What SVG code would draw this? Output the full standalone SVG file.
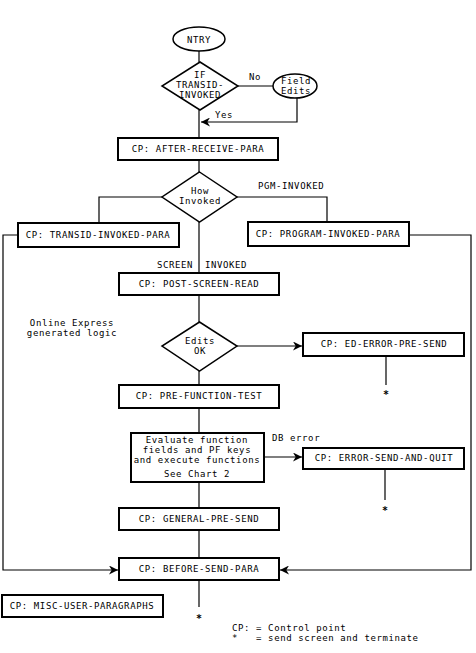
<svg xmlns="http://www.w3.org/2000/svg" width="476" height="653" viewBox="0 0 476 653">
<defs>
<style>
text{font-family:"DejaVu Sans Mono","Liberation Mono",monospace;font-size:9px;letter-spacing:0.6px;fill:#000}
.c{text-anchor:middle}
.star{font-size:10px;font-weight:bold;letter-spacing:0}
.box{fill:#fff;stroke:#000;stroke-width:2}
.shape{fill:#fff;stroke:#000;stroke-width:1.5}
.ln{fill:none;stroke:#000;stroke-width:1.2}
</style>
<marker id="ah" viewBox="0 0 10 10" refX="10" refY="5" markerWidth="9" markerHeight="9" markerUnits="userSpaceOnUse" orient="auto">
<path d="M0,0 L10,5 L0,10 L3,5 z" fill="#000"/>
</marker>
</defs>
<rect width="476" height="653" fill="#fff"/>
<g id="connectors">
<path class="ln" d="M199,51 V62"/>
<path class="ln" d="M199,110 V138"/>
<path class="ln" d="M238,86 H273"/>
<path class="ln" d="M297,98 V122 H201" marker-end="url(#ah)"/>
<path class="ln" d="M199,160 V172"/>
<path class="ln" d="M162,197 H99 V223"/>
<path class="ln" d="M237,197 H327 V222"/>
<path class="ln" d="M199,222 V273"/>
<path class="ln" d="M18,235 H3 V570 H118" marker-end="url(#ah)"/>
<path class="ln" d="M409,235 H471 V570 H280" marker-end="url(#ah)"/>
<path class="ln" d="M199,295 V322"/>
<path class="ln" d="M237,346 H302" marker-end="url(#ah)"/>
<path class="ln" d="M386,356 V385"/>
<path class="ln" d="M199,371 V385"/>
<path class="ln" d="M199,408 V433"/>
<path class="ln" d="M264,457 H302" marker-end="url(#ah)"/>
<path class="ln" d="M385,469 V500"/>
<path class="ln" d="M199,482 V508"/>
<path class="ln" d="M199,530 V558"/>
<path class="ln" d="M199,580 V607"/>
<text x="249" y="80">No</text>
<text x="215" y="118">Yes</text>
<text x="258" y="189">PGM-INVOKED</text>
<text x="193" y="268" text-anchor="end">SCREEN</text>
<text x="205" y="268">INVOKED</text>
<text x="272" y="441">DB error</text>
<text class="c star" x="386" y="398">*</text>
<text class="c star" x="385" y="514">*</text>
<text class="c star" x="199" y="622">*</text>
</g>
<g id="ntry">
<ellipse class="shape" cx="199" cy="39" rx="26" ry="12"/>
<text class="c" x="199" y="43">NTRY</text>
</g>
<g id="if-transid">
<polygon class="shape" points="200,62 238,86 200,110 162,86"/>
<text class="c" x="200" y="78">IF</text>
<text class="c" x="200" y="88">TRANSID-</text>
<text class="c" x="200" y="98">INVOKED</text>
</g>
<g id="field-edits">
<ellipse class="shape" cx="295" cy="86" rx="22" ry="12"/>
<text class="c" x="296" y="84">Field</text>
<text class="c" x="296" y="94">Edits</text>
</g>
<g id="after-receive">
<rect class="box" x="118" y="138" width="160" height="22"/>
<text class="c" x="198" y="152">CP: AFTER-RECEIVE-PARA</text>
</g>
<g id="how-invoked">
<polygon class="shape" points="199.5,172 237,197 199.5,222 162,197"/>
<text class="c" x="200" y="194">How</text>
<text class="c" x="200" y="204">Invoked</text>
</g>
<g id="transid-invoked">
<rect class="box" x="18" y="223" width="161" height="24"/>
<text class="c" x="98" y="238">CP: TRANSID-INVOKED-PARA</text>
</g>
<g id="program-invoked">
<rect class="box" x="248" y="222" width="161" height="24"/>
<text class="c" x="328" y="237">CP: PROGRAM-INVOKED-PARA</text>
</g>
<g id="post-screen-read">
<rect class="box" x="119" y="273" width="160" height="22"/>
<text class="c" x="199" y="287">CP: POST-SCREEN-READ</text>
</g>
<g id="note">
<text class="c" x="72" y="326">Online Express</text>
<text class="c" x="72" y="336">generated logic</text>
</g>
<g id="edits-ok">
<polygon class="shape" points="199.5,322 237,346 199.5,371 162,346"/>
<text class="c" x="200" y="344">Edits</text>
<text class="c" x="200" y="354">OK</text>
</g>
<g id="ed-error">
<rect class="box" x="303" y="333" width="161" height="23"/>
<text class="c" x="384" y="347">CP: ED-ERROR-PRE-SEND</text>
</g>
<g id="pre-function-test">
<rect class="box" x="119" y="385" width="160" height="23"/>
<text class="c" x="199" y="399">CP: PRE-FUNCTION-TEST</text>
</g>
<g id="evaluate">
<rect class="box" x="131" y="433" width="133" height="49"/>
<text class="c" x="197" y="443">Evaluate function</text>
<text class="c" x="197" y="453">fields and PF keys</text>
<text class="c" x="197" y="463">and execute functions</text>
<text class="c" x="197" y="477">See Chart 2</text>
</g>
<g id="error-send">
<rect class="box" x="303" y="448" width="161" height="21"/>
<text class="c" x="384" y="461">CP: ERROR-SEND-AND-QUIT</text>
</g>
<g id="general-pre-send">
<rect class="box" x="119" y="508" width="160" height="22"/>
<text class="c" x="199" y="522">CP: GENERAL-PRE-SEND</text>
</g>
<g id="before-send">
<rect class="box" x="119" y="558" width="160" height="22"/>
<text class="c" x="199" y="572">CP: BEFORE-SEND-PARA</text>
</g>
<g id="misc-user">
<rect class="box" x="2" y="595" width="161" height="22"/>
<text class="c" x="82" y="609">CP: MISC-USER-PARAGRAPHS</text>
</g>
<g id="legend">
<text x="232" y="631" xml:space="preserve">CP: = Control point</text>
<text x="232" y="641" xml:space="preserve">*   = send screen and terminate</text>
</g>
</svg>
